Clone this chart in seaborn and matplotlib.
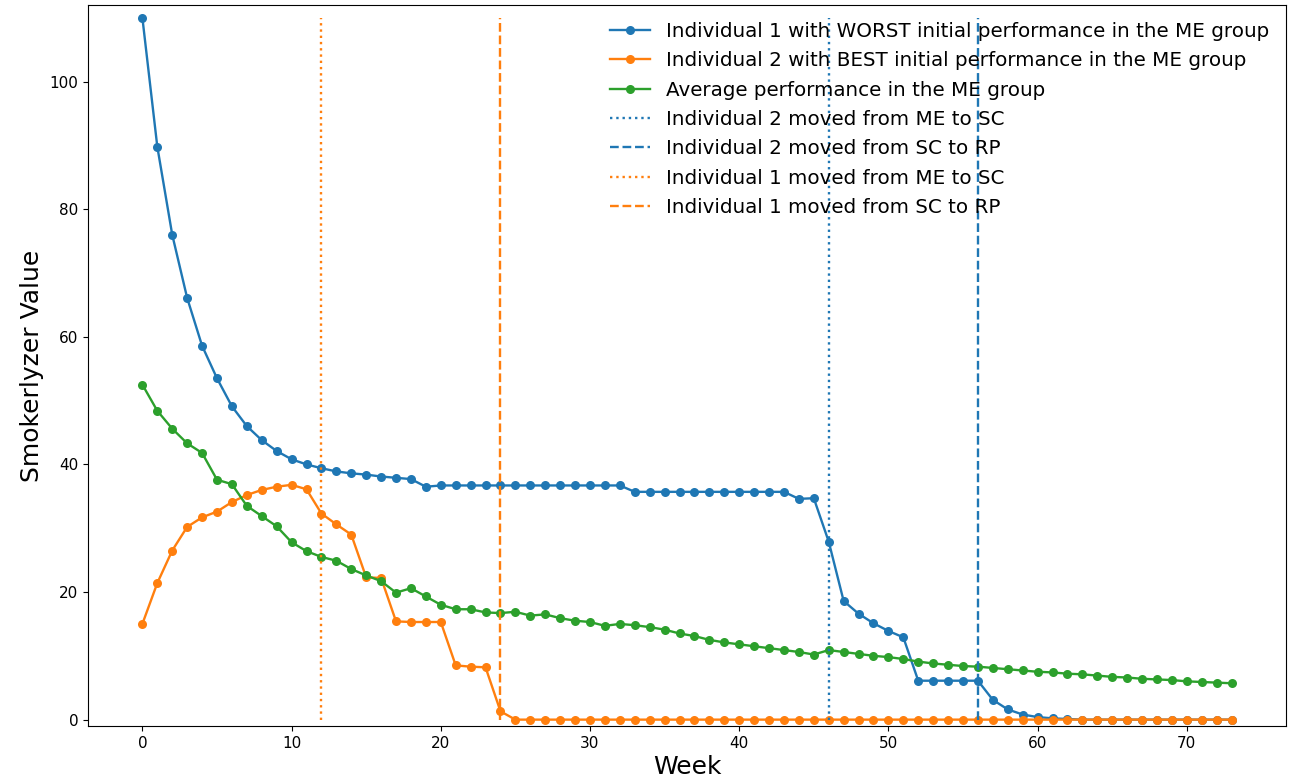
import numpy as np
import pandas as pd
import seaborn as sns
import matplotlib.pyplot as plt

# weekly smokerlyzer readings, weeks 0..73
weeks = np.arange(74)

worst = [110.0, 89.8, 76.0, 66.1, 58.6, 53.5, 49.1, 46.0, 43.8, 42.1,
         40.8, 40.0, 39.4, 38.9, 38.6, 38.4, 38.1, 37.9, 37.7, 36.5,
         36.7, 36.7, 36.7, 36.7, 36.7, 36.7, 36.7, 36.7, 36.7, 36.7,
         36.7, 36.7, 36.7, 35.7, 35.7, 35.7, 35.7, 35.7, 35.7, 35.7,
         35.7, 35.7, 35.7, 35.7, 34.6, 34.7, 27.9, 18.6, 16.6, 15.1,
         13.9, 12.9, 6.1, 6.1, 6.1, 6.1, 6.1, 3.1, 1.6, 0.8,
         0.4, 0.2, 0.1, 0.0, 0.0, 0.0, 0.0, 0.0, 0.0, 0.0,
         0.0, 0.0, 0.0, 0.0]

best = [15.0, 21.4, 26.5, 30.2, 31.7, 32.6, 34.1, 35.2, 36.0, 36.5,
        36.8, 36.1, 32.3, 30.6, 29.0, 22.3, 22.2, 15.4, 15.3, 15.3,
        15.3, 8.5, 8.3, 8.2, 1.3, 0.0, 0.0, 0.0, 0.0, 0.0,
        0.0, 0.0, 0.0, 0.0, 0.0, 0.0, 0.0, 0.0, 0.0, 0.0,
        0.0, 0.0, 0.0, 0.0, 0.0, 0.0, 0.0, 0.0, 0.0, 0.0,
        0.0, 0.0, 0.0, 0.0, 0.0, 0.0, 0.0, 0.0, 0.0, 0.0,
        0.0, 0.0, 0.0, 0.0, 0.0, 0.0, 0.0, 0.0, 0.0, 0.0,
        0.0, 0.0, 0.0, 0.0]

average = [52.5, 48.4, 45.6, 43.3, 41.8, 37.6, 36.9, 33.5, 31.9, 30.3,
           27.8, 26.4, 25.5, 24.9, 23.6, 22.6, 21.7, 19.9, 20.6, 19.3,
           18.0, 17.3, 17.3, 16.8, 16.7, 16.9, 16.3, 16.5, 15.9, 15.5,
           15.3, 14.7, 15.0, 14.8, 14.5, 14.1, 13.5, 13.1, 12.5, 12.1,
           11.8, 11.5, 11.2, 10.9, 10.6, 10.2, 10.9, 10.6, 10.3, 10.0,
           9.8, 9.5, 9.1, 8.8, 8.6, 8.4, 8.3, 8.1, 7.9, 7.7,
           7.5, 7.4, 7.2, 7.1, 6.9, 6.7, 6.6, 6.4, 6.3, 6.2,
           6.0, 5.9, 5.8, 5.7]

series_labels = ['Individual 1 with WORST initial performance in the ME group',
                 'Individual 2 with BEST initial performance in the ME group',
                 'Average performance in the ME group']

# group transitions (week, label, colour, style)
move_weeks = [46, 56, 12, 24]
move_labels = ['Individual 2 moved from ME to SC',
               'Individual 2 moved from SC to RP',
               'Individual 1 moved from ME to SC',
               'Individual 1 moved from SC to RP']
move_colors = ['tab:blue', 'tab:blue', 'tab:orange', 'tab:orange']
move_styles = [':', '--', ':', '--']

df = pd.DataFrame({'Week': weeks, 'worst': worst, 'best': best, 'average': average})

fig, ax = plt.subplots(figsize=(12.93, 7.82), dpi=100)
fig.subplots_adjust(left=0.068, right=0.9946, top=0.9936, bottom=0.0716)

colors = ['tab:blue', 'tab:orange', 'tab:green']
for col, lab, c in zip(['worst', 'best', 'average'], series_labels, colors):
    sns.lineplot(data=df, x='Week', y=col, label=lab, color=c, marker='o',
                 markersize=6.5, markeredgewidth=0, linewidth=1.7, ax=ax)

top = max(worst)
for w, lab, c, ls in zip(move_weeks, move_labels, move_colors, move_styles):
    ax.vlines(w, 0, top, colors=c, linestyles=ls, linewidth=1.7, label=lab)

ax.set_ylim(-1, 112)
ax.set_xlabel('Week', fontsize=18, labelpad=3)
ax.set_ylabel('Smokerlyzer Value', fontsize=18)
ax.tick_params(labelsize=11)
ax.legend(loc='upper right', frameon=False, fontsize=14.3, handlelength=2.0,
          borderaxespad=0.45, labelspacing=0.52)

plt.savefig('out.png', dpi=100)
